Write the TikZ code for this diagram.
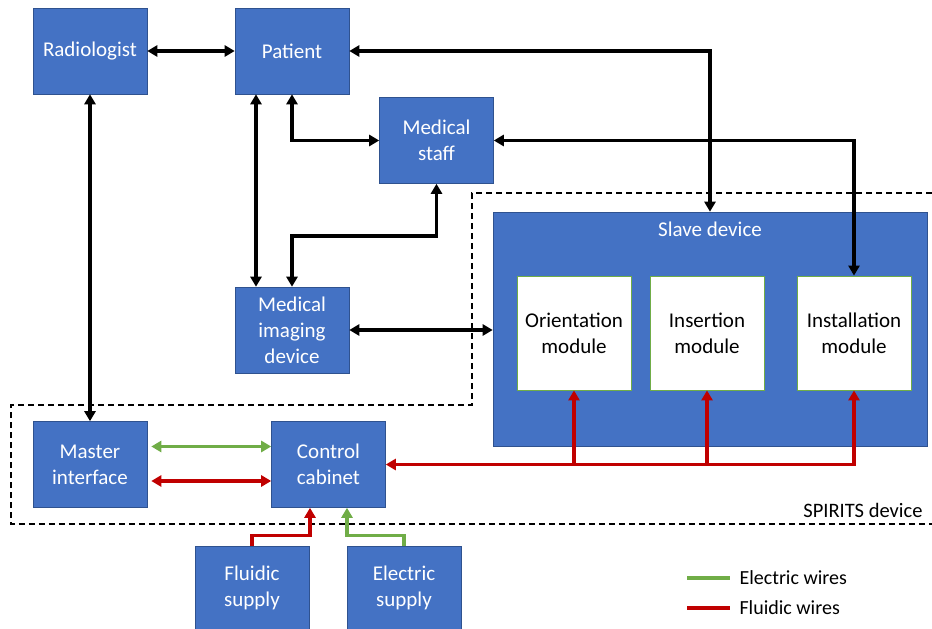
\documentclass[tikz,border=0pt]{standalone}
\usepackage{fontspec}
\setmainfont{Carlito}
\usetikzlibrary{arrows.meta,calc}
\definecolor{boxblue}{HTML}{4472C4}
\definecolor{boxedge}{HTML}{2F528F}
\definecolor{wgreen}{HTML}{70AD47}
\definecolor{wred}{HTML}{C00000}
\begin{document}
\begin{tikzpicture}[x=1pt,y=-1pt,
  font=\fontsize{21}{26}\selectfont,
  bluebox/.style={draw=boxedge,line width=0.6pt,fill=boxblue,text=white,align=center,inner sep=0pt,minimum width=114pt,minimum height=86pt},
  modbox/.style={draw=wgreen,line width=0.8pt,fill=white,text=black,align=center,inner sep=0pt,minimum width=114pt,minimum height=114pt},
  conn/.style={line width=3.4pt,black,{Triangle[length=10pt,width=11pt]}-{Triangle[length=10pt,width=11pt]}},
  gwire/.style={line width=3.4pt,wgreen},
  rwire/.style={line width=3.4pt,wred},
  tip/.style={-{Triangle[length=10pt,width=11pt]}},
  dtip/.style={{Triangle[length=10pt,width=11pt]}-{Triangle[length=10pt,width=11pt]}},
  boundary/.style={line width=1.6pt,dash pattern=on 6pt off 4pt}]
\useasboundingbox (0,0) rectangle (932,629);

% SPIRITS boundary
\draw[boundary] (932,193) -- (472,193) -- (472,405) -- (11,405) -- (11,524) -- (932,524);
\node[anchor=east,font=\fontsize{20.5}{24}\selectfont] (spirits) at (926,510) {SPIRITS device};

% nodes
\node[bluebox] (rad) at (90,51) {Radiologist};
\node[bluebox] (pat) at (292,51) {Patient};
\node[bluebox] (staff) at (436.5,140.5) {Medical\\staff};
\node[bluebox] (imag) at (292,330) {Medical\\imaging\\device};
\node[bluebox,minimum width=434pt,minimum height=234pt] (slave) at (710,329) {};
\node[text=white] (slavelbl) at (710,229) {Slave device};
\node[modbox] (ori) at (574,333) {Orientation\\module};
\node[modbox] (ins) at (707,333) {Insertion\\module};
\node[modbox] (inst) at (854,333) {Installation\\module};
\node[bluebox] (master) at (90,464.5) {Master\\interface};
\node[bluebox] (ctrl) at (328.5,464.5) {Control\\cabinet};
\node[bluebox,minimum height=84pt] (fluid) at (252,588) {Fluidic\\supply};
\node[bluebox,minimum height=84pt] (elec) at (404,588) {Electric\\supply};

% black connectors
\draw[conn] (rad.east) -- (pat.west);
\draw[conn] (pat.east) -| (slave.north);
\draw[conn] (staff.east) -| (inst.north);
\draw[conn] (pat.south) |- (staff.west);
\draw[conn] ([xshift=-36pt]pat.south) -- ([xshift=-36pt]imag.north);
\draw[conn] (staff.south) -- ++(0,52) -| (imag.north);
\draw[conn] (rad.south) -- (master.north);
\draw[conn] (imag.east) -- (imag.east -| slave.west);

% master <-> control cabinet
\draw[gwire,dtip] ([xshift=4pt,yshift=18pt]master.east) -- ([yshift=18pt]ctrl.west);
\draw[rwire,dtip] ([xshift=4pt,yshift=-16.5pt]master.east) -- ([yshift=-16.5pt]ctrl.west);

% fluidic bus from slave modules
\draw[rwire,dtip] (inst.south) |- (ctrl.east);
\draw[rwire,tip] (ori.south |- ctrl.east) -- (ori.south);
\draw[rwire,tip] (ins.south |- ctrl.east) -- (ins.south);

% supplies
\draw[rwire,tip] (fluid.north) -- ++(0,-10) -| ([xshift=-18.5pt]ctrl.south);
\draw[gwire,tip] (elec.north) -- ++(0,-10) -| ([xshift=18.5pt]ctrl.south);

% legend
\coordinate (lg1) at (687,578);
\coordinate (lg2) at (730,578);
\coordinate (lr1) at (687,608);
\coordinate (lr2) at (730,608);
\draw[gwire] (lg1) -- (lg2);
\draw[rwire] (lr1) -- (lr2);
\node[anchor=west,font=\fontsize{20}{24}\selectfont] (lgt) at (736,578) {Electric wires};
\node[anchor=west,font=\fontsize{20}{24}\selectfont] (lrt) at (736,608) {Fluidic wires};
\end{tikzpicture}
\end{document}
